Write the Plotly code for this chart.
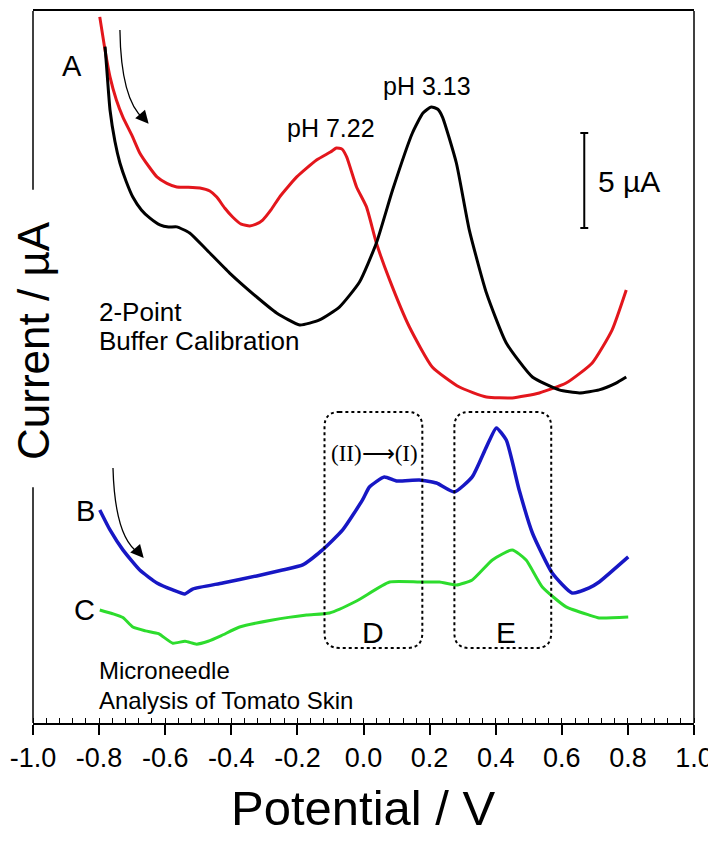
import plotly.graph_objects as go

# ---------------- data (potential in V, current in µA, arbitrary offset) ----------------
red_v = [-0.798, -0.782, -0.767, -0.748, -0.728, -0.700, -0.677, -0.650, -0.625, -0.595, -0.565,
         -0.530, -0.495, -0.465, -0.444, -0.420, -0.396, -0.370, -0.344, -0.325, -0.305,
         -0.280, -0.254, -0.202, -0.142, -0.100, -0.082, -0.065, -0.051, -0.021, 0.009, 0.039, 0.079,
         0.139, 0.208, 0.290, 0.372, 0.450, 0.532, 0.613, 0.692, 0.752, 0.795]
red_i = [37.16, 35.4, 34.0, 32.8, 31.89, 30.9, 30.0, 29.3, 28.74, 28.4, 28.21,
         28.2, 28.16, 28.0, 27.68, 27.1, 26.63, 26.25, 26.16, 26.25, 26.47,
         27.0, 27.68, 28.74, 29.63, 30.05, 30.26, 30.2, 29.79, 28.21, 27.16, 25.26, 23.32,
         20.84, 18.74, 17.68, 17.16, 17.11, 17.37, 17.89, 18.95, 20.68, 22.79]

black_v = [-0.782, -0.775, -0.767, -0.752, -0.737, -0.718, -0.698, -0.672, -0.647, -0.616,
           -0.590, -0.565, -0.526, -0.474, -0.405,
           -0.323, -0.263, -0.193, -0.133, -0.073, -0.012, 0.039, 0.088, 0.148, 0.180, 0.205,
           0.225, 0.239, 0.281, 0.320, 0.372, 0.432, 0.511, 0.592, 0.653, 0.713, 0.764, 0.795]
black_i = [35.6, 34.0, 32.26, 30.6, 29.47, 28.5, 27.68, 27.0, 26.58, 26.21,
           26.1, 26.11, 25.79, 24.89, 23.68,
           22.42, 21.58, 20.95, 21.21, 21.89, 23.21, 25.26, 28.05, 31.05, 32.1, 32.42,
           32.3, 31.89, 29.47, 25.95, 22.63, 20.0, 18.21, 17.53, 17.37, 17.53, 17.89, 18.21]

blue_v = [-0.798, -0.767, -0.728, -0.677, -0.625, -0.577, -0.541, -0.517, -0.426, -0.323,
          -0.245, -0.184, -0.124, -0.063, -0.003, 0.018, 0.063, 0.100, 0.169, 0.221,
          0.275, 0.329, 0.372, 0.402, 0.432, 0.471, 0.511, 0.571, 0.631, 0.683, 0.713, 0.801]
blue_i = [11.21, 10.16, 9.11, 8.05, 7.37, 7.0, 6.79, 7.05, 7.37, 7.74,
          8.05, 8.32, 9.11, 10.16, 11.74, 12.42, 12.95, 12.74, 12.79, 12.63,
          12.16, 12.95, 14.53, 15.53, 14.89, 12.26, 10.0, 7.89, 6.84, 7.11, 7.42, 8.74]

green_v = [-0.798, -0.759, -0.728, -0.698, -0.660, -0.620, -0.577, -0.540, -0.505, -0.470,
           -0.430, -0.375, -0.275, -0.172, -0.103, -0.021, 0.079, 0.169, 0.230, 0.281, 0.329,
           0.390, 0.450, 0.492, 0.541, 0.613, 0.683, 0.713, 0.801]
green_i = [5.95, 5.75, 5.55, 5.05, 4.85, 4.7, 4.2, 4.3, 4.15, 4.3,
           4.6, 5.05, 5.42, 5.68, 5.79, 6.42, 7.42, 7.42, 7.42, 7.26, 7.53,
           8.58, 9.11, 8.58, 7.16, 6.11, 5.68, 5.53, 5.58]

tick_vals = [-1.0, -0.8, -0.6, -0.4, -0.2, 0.0, 0.2, 0.4, 0.6, 0.8, 1.0]
tick_text = ["-1.0", "-0.8", "-0.6", "-0.4", "-0.2", "0.0", "0.2", "0.4", "0.6", "0.8", "1.0"]

FONT = "Liberation Sans, Arial, Helvetica, sans-serif"

fig = go.Figure()
for v, i, c, w in [(red_v, red_i, "#e3161c", 3), (black_v, black_i, "#000000", 3),
                   (blue_v, blue_i, "#1717c4", 3.5), (green_v, green_i, "#2ddc2d", 3)]:
    fig.add_trace(go.Scatter(x=v, y=i, mode="lines", line=dict(color=c, width=w, shape="spline", smoothing=0.5),
                             hoverinfo="skip", showlegend=False))

Y_MAX = 37.47

shapes = []
# frame: right edge and broken left edge
shapes.append(dict(type="line", xref="paper", yref="paper", x0=1, x1=1, y0=0, y1=1,
                   line=dict(color="black", width=1.5)))
shapes.append(dict(type="line", xref="paper", yref="paper", x0=0, x1=0, y0=0.749, y1=1,
                   line=dict(color="black", width=1.5)))
shapes.append(dict(type="line", xref="paper", yref="paper", x0=0, x1=0, y0=0, y1=0.331,
                   line=dict(color="black", width=1.5)))

# dotted rounded boxes
def rbox(x0, x1, y0, y1, rx=0.045, ry=0.79):
    p = (f"M {x0+rx},{y1} L {x1-rx},{y1} Q {x1},{y1} {x1},{y1-ry} "
         f"L {x1},{y0+ry} Q {x1},{y0} {x1-rx},{y0} L {x0+rx},{y0} "
         f"Q {x0},{y0} {x0},{y0+ry} L {x0},{y1-ry} Q {x0},{y1} {x0+rx},{y1} Z")
    return dict(type="path", path=p, xref="x", yref="y", line=dict(color="black", width=2, dash="dot"))

shapes.append(rbox(-0.118, 0.178, 3.95, 16.37))
shapes.append(rbox(0.275, 0.568, 3.95, 16.37))

# scale bar 5 µA
shapes.append(dict(type="line", xref="x", yref="y", x0=0.668, x1=0.668, y0=26.05, y1=31.05,
                   line=dict(color="black", width=2)))
for yy in (26.05, 31.05):
    shapes.append(dict(type="line", xref="x", yref="y", x0=0.656, x1=0.680, y0=yy, y1=yy,
                       line=dict(color="black", width=2)))

# curved arrows (scan direction)
shapes.append(dict(type="path", xref="x", yref="y",
                   path="M -0.737,36.47 Q -0.734,32.79 -0.665,31.79",
                   line=dict(color="black", width=1.3)))
shapes.append(dict(type="path", xref="x", yref="y",
                   path="M -0.758,13.42 Q -0.752,9.74 -0.680,8.95",
                   line=dict(color="black", width=1.3)))

annotations = []
def txt(x, y, s, size, xanchor="center", family=FONT, **kw):
    annotations.append(dict(x=x, y=y, xref="x", yref="y", text=s, showarrow=False,
                            font=dict(family=family, size=size, color="black"),
                            xanchor=xanchor, yanchor="middle", **kw))

txt(-0.882, 34.6, "A", 29)
txt(-0.840, 11.16, "B", 29)
txt(-0.843, 5.95, "C", 29)
txt(-0.097, 31.3, "pH 7.22", 25)
txt(0.193, 33.5, "pH 3.13", 25)
txt(0.704, 28.5, "5 µA", 30, xanchor="left")
txt(-0.806, 21.63, "2-Point", 26, xanchor="left")
txt(-0.806, 20.1, "Buffer Calibration", 26, xanchor="left")
txt(-0.806, 2.74, "Microneedle", 24, xanchor="left")
txt(-0.806, 1.16, "Analysis of Tomato Skin", 24, xanchor="left")
txt(0.033, 14.16, "(II)⟶(I)", 23, family="Liberation Serif, Times New Roman, serif")
txt(0.030, 4.74, "D", 30)
txt(0.432, 4.74, "E", 30)

# arrow heads
for (x, y) in [(-0.650, 31.53), (-0.665, 8.68)]:
    annotations.append(dict(x=x, y=y, xref="x", yref="y", ax=-7, ay=-8, showarrow=True,
                            arrowhead=2, arrowsize=2, arrowwidth=1.3, arrowcolor="black", text=""))

# axis titles
annotations.append(dict(x=0.5, y=-0.119, xref="paper", yref="paper", text="Potential / V", showarrow=False,
                        font=dict(family=FONT, size=49, color="black"), xanchor="center", yanchor="middle"))
annotations.append(dict(x=0.0015, y=0.538, xref="paper", yref="paper", text="Current / µA", showarrow=False,
                        textangle=-90, font=dict(family=FONT, size=44, color="black"),
                        xanchor="center", yanchor="middle"))

# the page body adds an 8 px offset, so the figure is 8 px smaller and margins shifted
fig.update_layout(
    width=708, height=833,
    margin=dict(l=25, r=22, t=3, b=118, autoexpand=False),
    paper_bgcolor="white", plot_bgcolor="white",
    shapes=shapes, annotations=annotations,
    xaxis=dict(range=[-1.0, 1.0], tickvals=tick_vals, ticktext=tick_text, ticks="outside",
               ticklen=10, tickwidth=1.5, tickcolor="black", showline=True, linecolor="black",
               linewidth=1.5, mirror=True, showgrid=False, zeroline=False, automargin=False,
               tickfont=dict(family=FONT, size=27, color="black"),
               minor=dict(dtick=0.04, tick0=-1.0, ticks="inside", ticklen=5, tickwidth=1, tickcolor="black",
                          showgrid=False)),
    yaxis=dict(range=[0, Y_MAX], showticklabels=False, ticks="", showgrid=False, zeroline=False,
               showline=False, automargin=False),
)

fig.write_html("out.html")
